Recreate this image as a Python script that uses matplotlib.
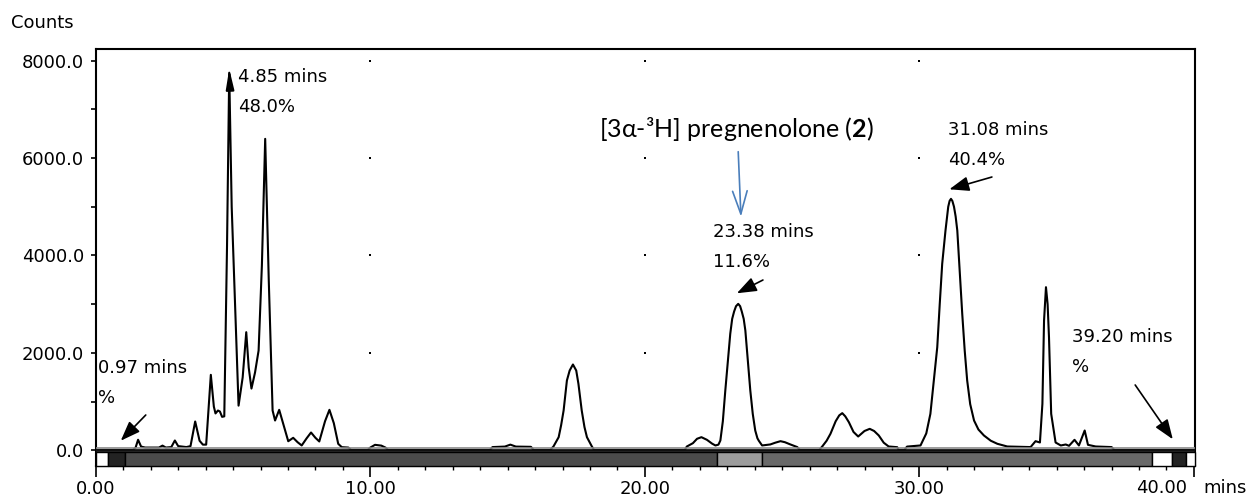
import matplotlib
matplotlib.use('Agg')
import matplotlib.pyplot as plt
from matplotlib.patches import Rectangle
from matplotlib.ticker import MultipleLocator, FormatStrFormatter

plt.rcParams['font.family'] = ['DejaVu Sans']
plt.rcParams['mathtext.fontset'] = 'custom'
plt.rcParams['mathtext.bf'] = 'Lato:bold'
plt.rcParams['mathtext.rm'] = 'Lato'

# radio-HPLC trace (mins, counts)
ret_time = [0.0, 1.35, 1.45, 1.54, 1.65, 1.8, 2.3, 2.43, 2.55, 2.75, 2.88, 3.0, 3.3, 3.45,
            3.62, 3.78, 3.9, 4.02, 4.19, 4.3, 4.36, 4.45, 4.52, 4.6, 4.68, 4.78, 4.86, 4.95, 5.2,
            5.35, 5.48, 5.57, 5.67, 5.8, 5.93, 6.05, 6.17, 6.3, 6.44, 6.53, 6.68, 6.85, 7.01,
            7.19, 7.35, 7.5, 7.68, 7.84, 8.0, 8.14, 8.35, 8.51, 8.67, 8.83, 8.96, 9.2, 9.3,
            9.9, 10.0, 10.17, 10.4, 10.55, 10.65,
            14.35, 14.45, 14.9, 15.1, 15.3, 15.85, 15.95,
            16.55, 16.67, 16.86, 16.95, 17.04, 17.16, 17.26, 17.38, 17.5, 17.58, 17.7, 17.8,
            17.89, 18.07, 18.15,
            21.45, 21.53, 21.75, 21.9, 22.06, 22.26, 22.45, 22.57, 22.68,
            22.75, 22.84, 22.93, 23.02, 23.11, 23.18, 23.25, 23.32, 23.4, 23.47, 23.53, 23.6,
            23.66, 23.75, 23.84, 23.93, 24.02, 24.1, 24.15, 24.27,
            24.57, 24.75, 24.94, 25.1, 25.3, 25.55, 25.65,
            26.35, 26.46, 26.62, 26.76, 26.95, 27.08, 27.19, 27.3, 27.43, 27.6, 27.77, 28.0,
            28.19, 28.35, 28.52, 28.7, 28.88, 29.19, 29.25, 29.45, 29.55, 30.04, 30.25, 30.4,
            30.5, 30.65, 30.74, 30.83, 30.95, 31.05, 31.1, 31.15, 31.2, 31.26, 31.32, 31.38,
            31.47, 31.56, 31.65, 31.74, 31.85, 31.99, 32.15, 32.35, 32.6, 32.84, 33.2,
            34.05, 34.23, 34.39, 34.48, 34.54, 34.61, 34.67, 34.72, 34.8, 34.96, 35.15, 35.33,
            35.45, 35.65, 35.81, 36.02, 36.14, 36.42, 37.0, 37.1, 40.05]
counts = [10, 10, 60, 220, 80, 60, 60, 100, 60, 70, 205, 90, 70, 90,
          595, 200, 120, 120, 1552, 900, 760, 820, 800, 690, 700, 4200, 7750, 5000, 920,
          1500, 2427, 1700, 1270, 1600, 2050, 3800, 6393, 3500, 820, 615, 834, 500, 190,
          260, 170, 103, 250, 369, 260, 185, 600, 834, 560, 137, 68, 60, 10,
          10, 60, 116, 100, 60, 10,
          10, 70, 80, 120, 80, 75, 10,
          10, 82, 273, 520, 820, 1436, 1640, 1764, 1640, 1367, 820, 480,
          273, 82, 10,
          10, 82, 150, 240, 273, 219, 140, 103, 120,
          205, 600, 1231, 1800, 2393, 2700, 2850, 2960, 3008, 2960, 2850, 2700,
          2461, 1850, 1231, 750, 410, 250, 200, 103,
          124, 160, 191, 170, 124, 70, 10,
          10, 82, 200, 342, 600, 720, 766, 700, 581, 380, 287, 400,
          444, 400, 308, 160, 82, 68, 10, 10, 80, 103, 350, 752,
          1300, 2119, 3000, 3829, 4512, 5000, 5120, 5162, 5120, 5000, 4800, 4512,
          3650, 2803, 2050, 1436, 950, 615, 430, 308, 200, 137, 82,
          70, 191, 164, 957, 2667, 3350, 3000, 2324, 752, 164, 103, 123,
          96, 219, 103, 410, 116, 82, 70, 10, 10]

# fraction bar under the baseline
seg_edges = [0.0, 0.455, 1.06, 22.63, 24.27, 38.47, 39.2, 39.7, 40.05]
seg_colors = ['white', '#232323', '#4b4b4b', '#9c9c9c', '#696969', 'white', '#232323', 'white']

x_ticks = [0, 10, 20, 30, 40]
x_ticklabels = ['0.00', '10.00', '20.00', '30.00', '']

# peak labels: (text x, text y, lines, arrow tail, arrow head)
peak_labels = [
    (0.08, 1692, ['0.97 mins', '%'], (1.82, 728), (0.91, 201)),
    (5.18, 7662, ['4.85 mins', '48.0%'], None, None),
    (22.48, 4482, ['23.38 mins', '11.6%'], (24.30, 3497), (23.35, 3225)),
    (31.04, 6574, ['31.08 mins', '40.4%'], (32.64, 5610), (31.09, 5358)),
    (35.55, 2328, ['39.20 mins', '%'], (37.86, 1344), (39.23, 230)),
]
line_gap = 615

fig = plt.figure(figsize=(12.49, 4.97), dpi=100)
ax = fig.add_axes([0.0767, 0.0624, 0.8801, 0.839])

ax.plot(ret_time, counts, color='black', lw=1.5, zorder=3)

ax.axhline(45, color='#8a8a8a', lw=1.2, zorder=4)
ax.axhline(5, color='#111111', lw=2.0, zorder=4)
for i in range(len(seg_colors)):
    ax.add_patch(Rectangle((seg_edges[i], -318), seg_edges[i + 1] - seg_edges[i], 287,
                           facecolor=seg_colors[i], edgecolor='black', lw=1.0, zorder=4,
                           clip_on=False))

# grid dots
for gx in [10, 20, 30]:
    for gy in [2000, 4000, 6000, 8000]:
        ax.plot(gx, gy, marker='s', ms=1.6, color='black', mew=0, zorder=2)

ax.set_xlim(0, 40.04)
ax.set_ylim(-318, 8236)
ax.set_xticks(x_ticks, x_ticklabels)
ax.xaxis.set_minor_locator(MultipleLocator(1))
ax.yaxis.set_major_locator(MultipleLocator(2000))
ax.yaxis.set_minor_locator(MultipleLocator(1000))
ax.yaxis.set_major_formatter(FormatStrFormatter('%.1f'))
ax.tick_params(axis='x', which='major', length=8, width=1.2, pad=2, labelsize=13)
ax.tick_params(axis='x', which='minor', length=3, width=1.0)
ax.tick_params(axis='y', which='both', length=3.6, width=1.2, pad=5, labelsize=13)
for sp in ax.spines.values():
    sp.set_linewidth(1.5)

for tx, ty, lines, tail, head in peak_labels:
    for k, s in enumerate(lines):
        ax.text(tx, ty - k * line_gap, s, fontsize=13, ha='left', va='center')
    if tail is not None:
        ax.annotate('', xy=head, xytext=tail,
                    arrowprops=dict(arrowstyle='-|>,head_length=0.8,head_width=0.3',
                                    color='black', lw=1.2, mutation_scale=15,
                                    shrinkA=0, shrinkB=0))

# small marker on top of the 4.85 peak
ax.annotate('', xy=(4.86, 7830), xytext=(4.88, 7540),
            arrowprops=dict(arrowstyle='-|>,head_length=1.0,head_width=0.2',
                            color='black', lw=1.5, mutation_scale=12,
                            shrinkA=0, shrinkB=0))

ax.text(23.32, 6595, '[3α-³H] pregnenolone ($\\mathbf{2}$)', fontsize=18,
        family=['Lato', 'DejaVu Sans'], ha='center', va='center')
ax.annotate('', xy=(23.50, 4796), xytext=(23.40, 6129),
            arrowprops=dict(arrowstyle='->,head_length=1.1,head_width=0.35',
                            color='#4a7ebb', lw=1.2, mutation_scale=15,
                            shrinkA=0, shrinkB=0))

fig.text(11 / 1249, 1 - 23 / 497, 'Counts', fontsize=13, ha='left', va='center')
fig.text(1162 / 1249, 1 - 479 / 497, '40.00', fontsize=13, ha='center', va='top')
fig.text(1203 / 1249, 1 - 479 / 497, 'mins', fontsize=13, ha='left', va='top')

fig.savefig('out.png', dpi=100)
